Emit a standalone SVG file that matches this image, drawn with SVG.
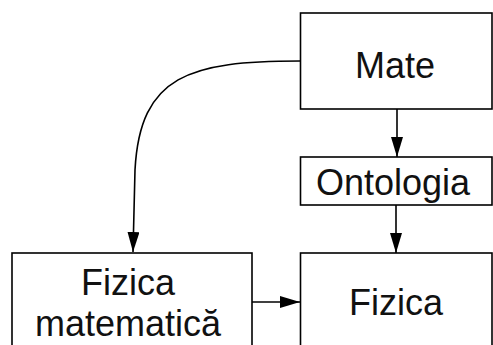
<svg xmlns="http://www.w3.org/2000/svg" width="493" height="345" viewBox="0 0 493 345">
<style>
.box{fill:#fff;stroke:#000;stroke-width:1.6}
.lbl{font-family:"Liberation Sans",Arial,sans-serif;font-size:36px;fill:#111;text-anchor:middle}
.edge{fill:none;stroke:#000;stroke-width:1.6;marker-end:url(#ah)}
</style>
<defs>
<marker id="ah" viewBox="0 0 20 12" refX="20" refY="6" markerWidth="20" markerHeight="12" markerUnits="userSpaceOnUse" orient="auto">
<path d="M0,0 L20,6 L0,12 Z" fill="#000"/>
</marker>
</defs>
<rect width="493" height="345" fill="#fff"/>
<g id="edges">
<path class="edge" d="M300,61 C190,61 140,75 135,170 L133,252"/>
<path class="edge" d="M397,109 L397,157"/>
<path class="edge" d="M396,205 L396,253"/>
<path class="edge" d="M252,302 L300,302"/>
</g>
<g id="mate">
<rect class="box" x="300.5" y="13" width="191.5" height="96"/>
<text class="lbl" x="395" y="78">Mate</text>
</g>
<g id="ontologia">
<rect class="box" x="300.5" y="157" width="191.5" height="48"/>
<text class="lbl" x="393" y="195">Ontologia</text>
</g>
<g id="fizica">
<rect class="box" x="300.5" y="253" width="191.5" height="110"/>
<text class="lbl" x="396" y="315">Fizica</text>
</g>
<g id="fizica-matematica">
<rect class="box" x="12" y="253" width="240" height="110"/>
<text class="lbl" x="128" y="295">Fizica</text>
<text class="lbl" x="128" y="336">matematică</text>
</g>
</svg>
